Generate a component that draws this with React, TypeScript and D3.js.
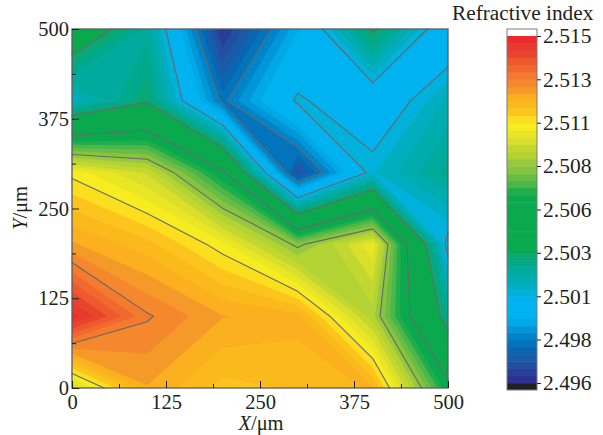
import React, { useEffect, useRef } from 'react';
import * as d3 from 'd3';

const xNodes = [0, 100, 200, 300, 400, 500];
const yNodes = [500, 400, 300, 200, 100, 0];

// refractive index at each measuring point, rows follow yNodes
const row500 = [2.5042, 2.5022, 2.4963, 2.4995, 2.5033, 2.4998];
const row400 = [2.5013, 2.5030, 2.4982, 2.5009, 2.4999, 2.5016];
const row300 = [2.5101, 2.5090, 2.5058, 2.4970, 2.5011, 2.5025];
const row200 = [2.5119, 2.5112, 2.5100, 2.5077, 2.50975, 2.5004];
const row100 = [2.5148, 2.5127, 2.51186, 2.5116, 2.50845, 2.5025];
const row0 = [2.5091, 2.5118, 2.5109, 2.5111, 2.5115, 2.5059];
const grid = [row500, row400, row300, row200, row100, row0];

// saddle cells split along "/" instead of "\": "column,row"
const slashCells = ['0,0', '4,0'];

const axisTicks = [0, 125, 250, 375, 500];
const axisMinorTicks = [62.5, 187.5, 312.5, 437.5];

const barMin = 2.496;
const barMax = 2.515;
const barTickValues = [2.515, 2.51263, 2.51025, 2.50788, 2.5055, 2.50313, 2.50075, 2.49838, 2.496];
const barTickLabels = ['2.515', '2.513', '2.511', '2.508', '2.506', '2.503', '2.501', '2.498', '2.496'];
const lineLevels = [2.51263, 2.51025, 2.50788, 2.5055, 2.50313, 2.50075, 2.49838];

// top of the colour bar first
const bandColors = [
  '#ee2a2e', '#ea3a2e', '#e8452e', '#f0582e', '#f1692e', '#f47a2d', '#f5872c', '#f59a28',
  '#fbb01f', '#fbba1c', '#fcc41c', '#fbdf1f', '#f7ec1f', '#e8e625', '#d9df2b', '#c2d72f',
  '#b3d334', '#96c93d', '#86c440', '#69bc45', '#4cb748', '#1fae4b', '#0ba94e', '#0ba94e',
  '#0ba94e', '#0ba94e', '#0ba94e', '#0ba94e', '#0ba94e', '#0ba94e', '#0aa874', '#00a98c',
  '#00aa9d', '#00acae', '#00aec0', '#00b1dc', '#00b3f0', '#00b3f0', '#00b3f0', '#00a9e5',
  '#0096d8', '#0084c9', '#0273bd', '#0b66b2', '#1a5aa8', '#20509f', '#283f97', '#2e3192',
];

const serif = '"Liberation Serif", serif';

type Node = { x: number; y: number; v: number };

function crossing(a: Node, b: Node, level: number): Node {
  const t = (level - a.v) / (b.v - a.v);
  return { x: a.x + (b.x - a.x) * t, y: a.y + (b.y - a.y) * t, v: level };
}

// marching squares: a cell is one piece, saddles are split along their diagonal
function cellPieces(level: number): Node[][] {
  const node = (c: number, r: number): Node => ({ x: xNodes[c], y: yNodes[r], v: grid[r][c] });
  const out: Node[][] = [];
  for (let r = 0; r < yNodes.length - 1; r++) {
    for (let c = 0; c < xNodes.length - 1; c++) {
      const tl = node(c, r), tr = node(c + 1, r), br = node(c + 1, r + 1), bl = node(c, r + 1);
      const hiA = tl.v >= level && br.v >= level && tr.v < level && bl.v < level;
      const hiB = tr.v >= level && bl.v >= level && tl.v < level && br.v < level;
      if (!hiA && !hiB) out.push([tl, tr, br, bl]);
      else if (slashCells.includes(c + ',' + r)) out.push([tl, tr, bl], [tr, br, bl]);
      else out.push([tl, tr, br], [tl, br, bl]);
    }
  }
  return out;
}

// part of a piece where the value is at or above the level
function clipAbove(piece: Node[], level: number): Node[] {
  const poly: Node[] = [];
  piece.forEach((a, i) => {
    const b = piece[(i + 1) % piece.length];
    if (a.v >= level) poly.push(a);
    if ((a.v >= level) !== (b.v >= level)) poly.push(crossing(a, b, level));
  });
  return poly;
}

export default function App() {
  const ref = useRef<SVGSVGElement>(null);

  useEffect(() => {
    const svg = d3.select(ref.current);
    svg.selectAll('*').remove();

    const x = d3.scaleLinear().domain([0, 500]).range([72, 448]);
    const y = d3.scaleLinear().domain([0, 500]).range([388, 29]);

    // filled bands, lowest first
    const bands = bandColors.slice().reverse();
    const step = (barMax - barMin) / bands.length;
    svg.append('rect')
      .attr('x', x(0)).attr('y', y(500))
      .attr('width', x(500) - x(0)).attr('height', y(0) - y(500))
      .attr('fill', bands[0]);

    bands.forEach((color, i) => {
      const level = barMin + i * step;
      const path = d3.path();
      cellPieces(level).forEach(piece => {
        const poly = clipAbove(piece, level);
        if (poly.length < 3) return;
        poly.forEach((p, k) => {
          if (k === 0) path.moveTo(x(p.x), y(p.y));
          else path.lineTo(x(p.x), y(p.y));
        });
        path.closePath();
      });
      svg.append('path').attr('d', path.toString()).attr('fill', color);
    });

    // contour lines
    const linePath = d3.path();
    lineLevels.forEach(level => {
      cellPieces(level).forEach(piece => {
        const pts: Node[] = [];
        piece.forEach((a, i) => {
          const b = piece[(i + 1) % piece.length];
          if ((a.v >= level) !== (b.v >= level)) pts.push(crossing(a, b, level));
        });
        if (pts.length === 2) {
          linePath.moveTo(x(pts[0].x), y(pts[0].y));
          linePath.lineTo(x(pts[1].x), y(pts[1].y));
        }
      });
    });
    svg.append('path')
      .attr('d', linePath.toString())
      .attr('fill', 'none')
      .attr('stroke', '#66696b')
      .attr('stroke-width', 1.1)
      .attr('stroke-linecap', 'round');

    // frame
    svg.append('rect')
      .attr('x', x(0)).attr('y', y(500))
      .attr('width', x(500) - x(0)).attr('height', y(0) - y(500))
      .attr('fill', 'none')
      .attr('stroke', '#5a5c5e')
      .attr('stroke-width', 1.3);

    // axes, ticks point inward
    const styleAxis = (g: any) => {
      g.select('.domain').remove();
      g.selectAll('line').attr('stroke', '#231f20').attr('stroke-width', 1);
      g.selectAll('text')
        .attr('font-family', serif)
        .attr('font-size', 20.5)
        .attr('fill', '#231f20');
    };

    svg.append('g')
      .attr('transform', `translate(0,${y(0)})`)
      .call(d3.axisBottom(x).tickValues(axisTicks).tickFormat(d3.format('d') as any).tickSizeInner(-7).tickPadding(6))
      .call(styleAxis);
    svg.append('g')
      .attr('transform', `translate(0,${y(0)})`)
      .call(d3.axisBottom(x).tickValues(axisMinorTicks).tickFormat(() => '').tickSizeInner(-4))
      .call(styleAxis);
    svg.append('g')
      .attr('transform', `translate(${x(0)},0)`)
      .call(d3.axisLeft(y).tickValues(axisTicks).tickFormat(d3.format('d') as any).tickSizeInner(-7).tickPadding(3))
      .call(styleAxis);
    svg.append('g')
      .attr('transform', `translate(${x(0)},0)`)
      .call(d3.axisLeft(y).tickValues(axisMinorTicks).tickFormat(() => '').tickSizeInner(-4))
      .call(styleAxis);

    // axis titles
    const title = svg.append('text')
      .attr('x', 261).attr('y', 430)
      .attr('text-anchor', 'middle')
      .attr('font-family', serif).attr('font-size', 20.5).attr('fill', '#231f20');
    title.append('tspan').attr('font-style', 'italic').text('X');
    title.append('tspan').text('/μm');

    const yTitle = svg.append('text')
      .attr('transform', 'translate(27,208) rotate(-90)')
      .attr('text-anchor', 'middle')
      .attr('font-family', serif).attr('font-size', 20.5).attr('fill', '#231f20');
    yTitle.append('tspan').attr('font-style', 'italic').text('Y');
    yTitle.append('tspan').text('/μm');

    // colour bar
    const barY = d3.scaleLinear().domain([barMin, barMax]).range([383, 36]);
    const bar = svg.append('g');
    bar.append('rect').attr('x', 507).attr('y', 29).attr('width', 30).attr('height', 7).attr('fill', '#fff');
    bar.append('rect').attr('x', 507).attr('y', 383).attr('width', 30).attr('height', 7).attr('fill', '#231f20');
    bar.selectAll('rect.band')
      .data(bands)
      .enter()
      .append('rect')
      .attr('class', 'band')
      .attr('x', 507)
      .attr('y', (_, i) => barY(barMin + (i + 1) * step))
      .attr('width', 30)
      .attr('height', (_, i) => barY(barMin + i * step) - barY(barMin + (i + 1) * step) + 0.5)
      .attr('fill', d => d);
    bar.append('rect')
      .attr('x', 507).attr('y', 29).attr('width', 30).attr('height', 361)
      .attr('fill', 'none').attr('stroke', '#7a7c7e').attr('stroke-width', 1);

    const barAxis = d3.axisRight(barY)
      .tickValues(barTickValues)
      .tickFormat((_, i) => barTickLabels[i])
      .tickSizeInner(4)
      .tickPadding(2);
    svg.append('g')
      .attr('transform', 'translate(537,0)')
      .call(barAxis)
      .call(styleAxis)
      .selectAll('text').attr('font-size', 21.5);

    svg.append('text')
      .attr('x', 452).attr('y', 20)
      .attr('font-family', serif).attr('font-size', 21.3).attr('fill', '#231f20')
      .text('Refractive index');
  }, []);

  return (
    <svg
      ref={ref}
      width={603}
      height={435}
      style={{ position: 'absolute', left: 0, top: 0, display: 'block', background: '#fff' }}
    />
  );
}
